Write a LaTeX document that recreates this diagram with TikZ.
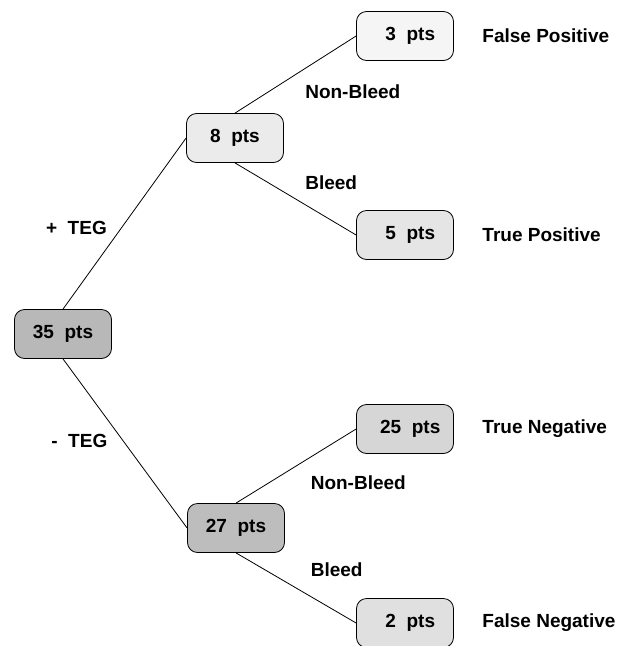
\documentclass[tikz,border=0pt]{standalone}
\usepackage{fontspec}
\setmainfont{Liberation Sans}
\usetikzlibrary{positioning}

\begin{document}
\begin{tikzpicture}[x=1pt,y=-1pt,
  font=\fontsize{19}{22}\selectfont\bfseries,
  box/.style={draw,rounded corners=10pt,align=center,inner sep=2pt,minimum width=97pt,minimum height=49pt,line width=0.8pt},
  lnk/.style={line width=0.8pt},
  res/.style={right=25pt of #1,anchor=west}]
\useasboundingbox (0,0) rectangle (630,646);
\node[box,fill=black!28] (root) at (63,334) {35\ \ pts};
\node[box,fill=black!8] (pos) at (235,138) {8\ \ pts};
\node[box,fill=black!26] (neg) at (236,528) {27\ \ pts};
\node[box,fill=black!4] (fp) at (405,36) {\ \ 3\ \ pts};
\node[box,fill=black!10] (tp) at (405,235) {\ \ 5\ \ pts};
\node[box,fill=black!16] (tn) at (405,429) {\ \ 25\ \ pts};
\node[box,fill=black!12] (fn) at (405,623) {\ \ 2\ \ pts};
\node[res=fp] (fpl) {False Positive};
\node[res=tp] (tpl) {True Positive};
\node[res=tn] (tnl) {True Negative};
\node[res=fn] (fnl) {False Negative};
\draw[lnk] (root.north) -- node[midway,anchor=east,xshift=-14pt,yshift=-4pt] {+\ \ TEG} (pos.west);
\draw[lnk] (root.south) -- node[midway,anchor=east,xshift=-14pt,yshift=2pt] {-\ \ TEG} (neg.west);
\draw[lnk] (pos.north) -- node[midway,anchor=west,xshift=6pt,yshift=-17pt] {Non-Bleed} (fp.west);
\draw[lnk] (pos.south) -- node[midway,anchor=west,xshift=6pt,yshift=16pt] {Bleed} (tp.west);
\draw[lnk] (neg.north) -- node[midway,anchor=west,xshift=11pt,yshift=-17pt] {Non-Bleed} (tn.west);
\draw[lnk] (neg.south) -- node[midway,anchor=west,xshift=11pt,yshift=18pt] {Bleed} (fn.west);
\end{tikzpicture}
\end{document}
